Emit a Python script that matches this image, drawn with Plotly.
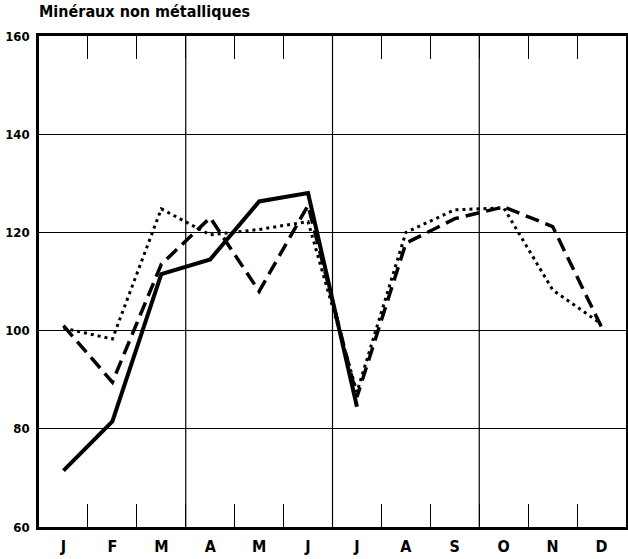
import plotly.graph_objects as go

months = ["J", "F", "M", "A", "M", "J", "J", "A", "S", "O", "N", "D"]
solid_vals = [71.5, 81.5, 111.5, 114.5, 126.3, 128.0, 84.5, None, None, None, None, None]
dashed_vals = [101.0, 89.5, 113.5, 123.0, 108.0, 125.5, 86.5, 117.8, 122.8, 125.2, 121.2, 100.7]
dotted_vals = [100.5, 98.3, 124.8, 119.5, 120.6, 122.2, 87.5, 120.0, 124.6, 125.0, 108.3, 101.3]
y_ticks = [60, 80, 100, 120, 140, 160]

xpos = [i + 0.5 for i in range(len(months))]
FONT = "Liberation Sans Narrow, DejaVu Sans Condensed, Arial Narrow, sans-serif"

fig = go.Figure()
fig.add_trace(go.Scatter(x=xpos, y=dotted_vals, mode="lines",
                         line=dict(color="black", width=3, dash="3px,4px"), showlegend=False))
fig.add_trace(go.Scatter(x=xpos, y=dashed_vals, mode="lines",
                         line=dict(color="black", width=3.5, dash="14px,7px"), showlegend=False))
fig.add_trace(go.Scatter(x=xpos, y=solid_vals, mode="lines",
                         line=dict(color="black", width=4), showlegend=False))
# invisible trace to activate xaxis2 for month labels
fig.add_trace(go.Scatter(x=xpos, y=dashed_vals, xaxis="x2", mode="lines",
                         line=dict(width=0), hoverinfo="skip", showlegend=False, opacity=0))

for q in [3, 6, 9]:
    fig.add_shape(type="line", xref="x", yref="paper", x0=q, x1=q, y0=0, y1=1,
                  line=dict(color="black", width=1.2), layer="below")

fig.update_layout(
    width=628, height=559,
    margin=dict(l=39, r=2, t=36, b=32),
    paper_bgcolor="white", plot_bgcolor="white",
    font=dict(family=FONT, color="black", size=15),
    title=dict(text="<b>Minéraux non métalliques</b>", x=0, xref="paper", xanchor="left",
               y=1, yref="container", yanchor="top", pad=dict(t=6, l=0),
               font=dict(family=FONT, size=16, color="black"), automargin=False),
    xaxis=dict(range=[0, 12], tickvals=list(range(0, 13)), showticklabels=False,
               ticks="inside", ticklen=23, tickwidth=1.2, tickcolor="black",
               showgrid=False, zeroline=False, showline=True, linewidth=2.5,
               linecolor="black", mirror="ticks", automargin=False),
    xaxis2=dict(range=[0, 12], overlaying="x", side="bottom", anchor="y",
                tickvals=xpos, ticktext=[f"<b>{m}</b>" for m in months],
                ticks="", showgrid=False, zeroline=False, showline=False, automargin=False,
                ticklabelstandoff=8,
                tickfont=dict(family=FONT, size=16, color="black")),
    yaxis=dict(range=[60, 160], tickvals=y_ticks, ticktext=[f"<b>{v}</b>" for v in y_ticks],
               ticks="", showgrid=True, gridcolor="black", gridwidth=1.2, automargin=False,
               zeroline=False, showline=True, linewidth=2.5, linecolor="black", mirror=True,
               ticklabelstandoff=4,
               tickfont=dict(family=FONT, size=13, color="black")),
)

fig.write_html("out.html", config={"displayModeBar": False},
               post_script="document.body.style.margin='0px';document.documentElement.style.overflow='hidden';")
